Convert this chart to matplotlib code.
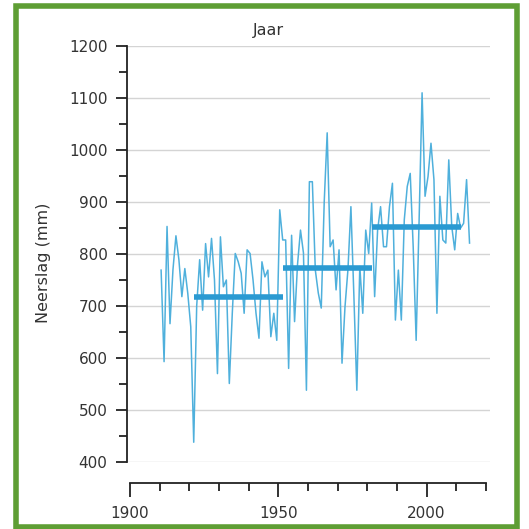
import matplotlib
matplotlib.use("Agg")
import matplotlib.pyplot as plt
from matplotlib.patches import Rectangle
from matplotlib.ticker import MultipleLocator
import numpy as np

# jaarlijkse neerslag (mm), 1910 - 2014
years = np.arange(1910, 2015)
neerslag = [
    769, 593, 853, 666, 770, 835, 789, 718, 772, 724,
    660, 438, 700, 789, 692, 820, 756, 830, 750, 570,
    833, 737, 750, 551, 686, 801, 785, 763, 686, 808,
    801, 750, 686, 638, 785, 756, 769, 641, 686, 634,
    885, 827, 827, 580, 836, 670, 780, 846, 802, 538,
    939, 939, 769, 725, 696, 900, 1033, 814, 827, 731,
    808, 590, 698, 770, 891, 720, 538, 776, 686, 846,
    801, 898, 718, 846, 891, 814, 814, 891, 936, 673,
    769, 673, 866, 930, 955, 814, 634, 866, 1110, 911,
    949, 1013, 943, 686, 911, 827, 821, 981, 853, 808,
    878, 850, 859, 943, 821,
]

# gemiddelden per periode
periode_start = [1921, 1951, 1981]
periode_eind = [1950, 1980, 2010]
periode_gem = [718, 773, 851]

lijn_kleur = "#4fb0dc"
gem_kleur = "#2a9ad2"

plt.rcParams["font.family"] = ["DejaVu Sans"]

fig = plt.figure(figsize=(5.29, 5.29), dpi=100)
ax = fig.add_axes([127 / 529, 1 - 462 / 529, (490 - 127) / 529, (462 - 46) / 529])

ax.plot(years + 0.5, neerslag, color=lijn_kleur, linewidth=1.1, zorder=3)
for s, e, g in zip(periode_start, periode_eind, periode_gem):
    ax.plot([s + 0.5, e + 1.5], [g, g], color=gem_kleur, linewidth=4, zorder=4,
            solid_capstyle="butt")

ax.set_xlim(1899, 2021.4)
ax.set_ylim(400, 1200)

ax.yaxis.set_major_locator(MultipleLocator(100))
ax.yaxis.set_minor_locator(MultipleLocator(50))
ax.xaxis.set_major_locator(MultipleLocator(50))
ax.xaxis.set_minor_locator(MultipleLocator(10))
ax.grid(axis="y", color="#d4d4d4", linewidth=1.0)
ax.set_axisbelow(True)

for side in ["top", "right"]:
    ax.spines[side].set_visible(False)
ax.spines["left"].set_color("#222222")
ax.spines["left"].set_linewidth(1.3)
ax.spines["bottom"].set_color("#222222")
ax.spines["bottom"].set_linewidth(1.3)
ax.spines["bottom"].set_position(("outward", 15))
ax.spines["bottom"].set_bounds(1900, 2020)

ax.tick_params(axis="y", which="major", length=8, width=1.3, color="#222222",
               labelsize=11, pad=6, labelcolor="#333333")
ax.tick_params(axis="y", which="minor", length=6, width=1.3, color="#222222")
ax.tick_params(axis="x", which="major", length=10, width=1.3, color="#222222",
               labelsize=11, pad=7, labelcolor="#333333")
ax.tick_params(axis="x", which="minor", length=6, width=1.3, color="#222222")
ax.set_xticks([1900, 1950, 2000])
ax.set_xticklabels(["1900", "1950", "2000"])

ax.set_ylabel("Neerslag (mm)", fontsize=11.5, color="#333333")
ax.yaxis.set_label_coords(-0.208, 0.48)
fig.text(268 / 529, 1 - 30 / 529, "Jaar", ha="center", va="center",
         fontsize=11.5, color="#333333")

fig.patches.append(Rectangle((15.5 / 529, 2.5 / 529), (517 - 15.5) / 529, (523 - 2.5) / 529,
                             transform=fig.transFigure, fill=False,
                             edgecolor="#5e9e34", linewidth=4))

fig.savefig("out.png", dpi=100)
